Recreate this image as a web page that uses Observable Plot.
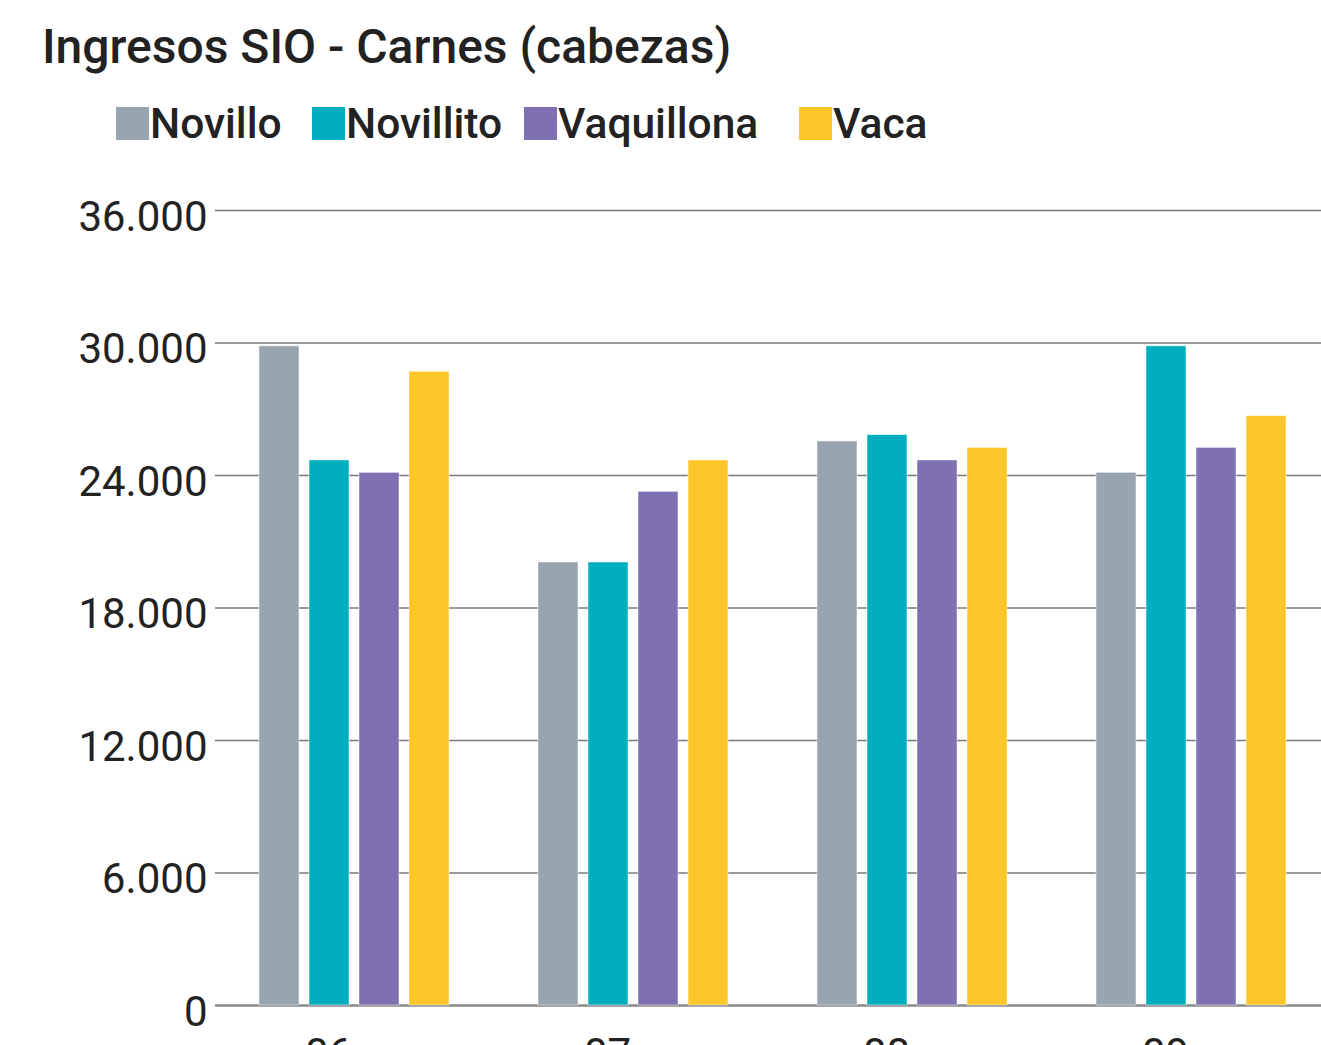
<!DOCTYPE html>
<html>
<head>
<meta charset="utf-8">
<script src="https://cdn.jsdelivr.net/npm/d3@7"></script>
<script src="https://cdn.jsdelivr.net/npm/@observablehq/plot@0.6"></script>
<style>
  html, body { margin: 0; padding: 0; background: #fff; overflow: hidden; }
  #wrap { position: relative; width: 1321px; height: 1045px; overflow: hidden; font-family: Roboto, "Noto Sans", sans-serif; color: #222; }
  #title { position: absolute; left: 42px; top: 24px; font-size: 48px; line-height: 46px; font-weight: 500; white-space: nowrap; }
  .leg { position: absolute; top: 0; height: 150px; }
  .sw { position: absolute; top: 107px; left: 0; width: 33px; height: 33px; }
  .lt { position: absolute; top: 103px; left: 34px; font-size: 42.5px; line-height: 42px; font-weight: 500; white-space: nowrap; }
  #chart { position: absolute; left: 0; top: 160px; width: 1321px; height: 930px; }
  #chart svg { position: absolute; left: 0; top: 0; overflow: visible; max-width: none; }
</style>
</head>
<body>
<div id="wrap">
  <div id="title">Ingresos SIO - Carnes (cabezas)</div>
  <div id="legend"></div>
  <div id="chart"></div>
</div>
<script>
// ---- data ----
const groups = ["06", "07", "08", "09"];
const series = ["Novillo", "Novillito", "Vaquillona", "Vaca"];
const colors = ["#98a4af", "#00aebf", "#7f6fb3", "#fec629"];
const novillo    = [29850, 20060, 25540, 24120];
const novillito  = [24680, 20060, 25830, 29850];
const vaquillona = [24120, 23260, 24680, 25250];
const vaca       = [28700, 24680, 25250, 26690];
const yTicks = [0, 6000, 12000, 18000, 24000, 30000, 36000];
const yMax = 36000;

// ---- layout (not data) ----
const legendLeft = [116, 312, 524, 799];

const valuesBySeries = [novillo, novillito, vaquillona, vaca];
const rows = [];
groups.forEach((g, gi) => series.forEach((s, si) => rows.push({group: g, series: s, value: valuesBySeries[si][gi]})));

// legend
const legend = document.getElementById("legend");
series.forEach((s, i) => {
  const item = document.createElement("div");
  item.className = "leg";
  item.style.left = legendLeft[i] + "px";
  item.innerHTML = `<div class="sw" style="background:${colors[i]}"></div><div class="lt">${s}</div>`;
  legend.appendChild(item);
});

const fmt = d => d3.format(",")(d).replace(/,/g, ".");
const W = 1321, H = 930;
const common = {
  width: W, height: H,
  marginLeft: 215, marginRight: 0, marginTop: 50, marginBottom: 85,
  style: {fontFamily: "Roboto, sans-serif", fontSize: "42px", color: "#222", background: "transparent", overflow: "visible", maxWidth: "none"}
};

// background: grid + y axis
const grid = Plot.plot({
  ...common,
  y: {domain: [0, yMax], axis: null},
  marks: [
    Plot.ruleY(yTicks.filter(d => d > 0), {stroke: "#7a7a7a", strokeWidth: 1.5}),
    Plot.ruleY([0], {stroke: "#888", strokeWidth: 2.5}),
    Plot.axisY(yTicks, {tickSize: 0, tickPadding: 8, tickFormat: fmt, dy: 7, fontSize: 42, fill: "#222", label: null})
  ]
});

// foreground: grouped bars
const bars = Plot.plot({
  ...common,
  fx: {domain: groups, paddingInner: 0.32, paddingOuter: 0.14, align: 0.56, label: null},
  x: {domain: series, paddingInner: 0.2, paddingOuter: 0, axis: null},
  y: {domain: [0, yMax], axis: null},
  color: {domain: series, range: colors},
  marks: [
    Plot.barY(rows, {fx: "group", x: "series", y: "value", fill: "series", stroke: "white", strokeOpacity: 0.5, strokeWidth: 1}),
    Plot.axisFx({anchor: "bottom", tickSize: 0, tickPadding: 33, dx: -26, fontSize: 42, fill: "#222", label: null})
  ]
});

const chart = document.getElementById("chart");
chart.appendChild(grid);
chart.appendChild(bars);
</script>
</body>
</html>
